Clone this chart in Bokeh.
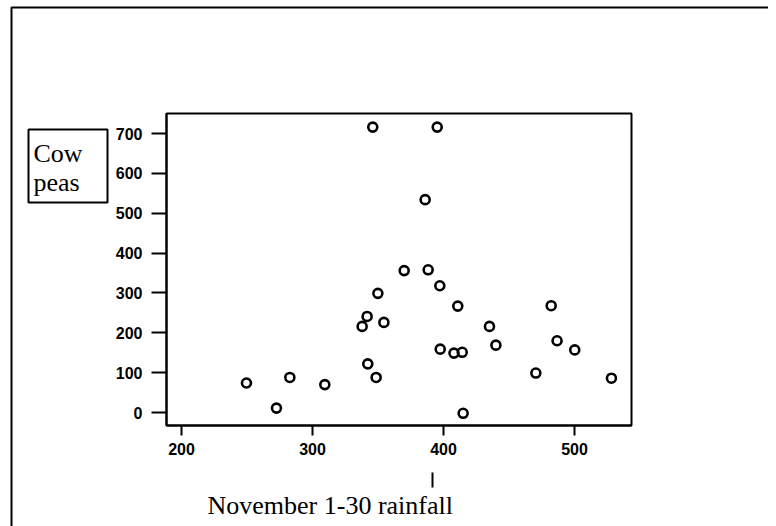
from bokeh.plotting import figure
from bokeh.models import BoxAnnotation, Label, FixedTicker, Range1d
from bokeh.embed import file_html
from bokeh.resources import INLINE

# Data: November 1-30 rainfall vs cow peas yield
rainfall = [249.6, 272.5, 282.7, 309.4, 337.9, 341.7, 354.5, 342.2, 348.6, 349.9,
            346.0, 370.0, 386.0, 388.3, 395.2, 397.2, 397.5, 408.0, 414.3, 410.9,
            415.0, 435.1, 440.0, 470.5, 482.2, 486.7, 500.2, 528.2]
cowpeas = [74, 11, 88, 70, 216, 241, 226, 122, 88, 299,
           716, 356, 534, 358, 716, 318, 159, 149, 151, 267,
           -2, 216, 169, 99, 268, 180, 157, 86]
x_ticks = [200, 300, 400, 500]
y_ticks = [0, 100, 200, 300, 400, 500, 600, 700]
x_label = "November 1-30 rainfall"
y_label_lines = ["Cow", "peas"]

W, H = 768, 526
# pixel <-> data mapping (canvas pixels from top-left)
X_PX0, X_PPU = 181.0, 1.31      # pixel of x=200, pixels per unit
Y_PX0, Y_PPU = 412.0, 279.0 / 700.0  # pixel of y=0, pixels per unit


def dx(px):
    return 200 + (px - X_PX0) / X_PPU


def dy(py):
    return (Y_PX0 - py) / Y_PPU


BOX_L, BOX_T, BOX_R, BOX_B = 166, 113, 631, 425

p = figure(width=W, height=H, min_border=0,
           x_range=Range1d(dx(0), dx(W)), y_range=Range1d(dy(H), dy(0)),
           output_backend="svg", toolbar_location=None)
p.title.visible = False
p.outline_line_color = None
p.xgrid.visible = False
p.ygrid.visible = False

p.scatter(rainfall, cowpeas, marker="circle", size=9, line_color="black",
          line_width=2.6, fill_alpha=0)

xa, ya = p.xaxis[0], p.yaxis[0]
xa.fixed_location = dy(BOX_B)
xa.bounds = (dx(BOX_L), dx(BOX_R))
ya.fixed_location = dx(BOX_L)
ya.bounds = (dy(BOX_B), dy(BOX_T))

for ax, ticks, tout, stand in ((xa, x_ticks, 10, 7), (ya, y_ticks, 15, 9)):
    ax.ticker = FixedTicker(ticks=ticks)
    ax.major_tick_out = tout
    ax.major_tick_in = 0
    ax.minor_tick_line_color = None
    ax.major_tick_line_width = 2
    ax.major_tick_line_color = "black"
    ax.axis_line_width = 2
    ax.axis_line_color = "black"
    ax.major_label_text_font = "Liberation Sans"
    ax.major_label_text_font_style = "bold"
    ax.major_label_text_font_size = "16px"
    ax.major_label_text_color = "black"
    ax.major_label_standoff = stand


def frame_box(l, t, r, b):
    return BoxAnnotation(left=dx(l), right=dx(r), top=dy(t), bottom=dy(b),
                         fill_alpha=0, line_color="black", line_alpha=1, line_width=2)


# plot box
p.add_layout(frame_box(BOX_L, BOX_T, BOX_R, BOX_B))
# outer frame (left and top edges)
p.add_layout(frame_box(11, 7, 900, 560))
# y label box
p.add_layout(frame_box(28, 129, 107, 202))

for i, t in enumerate(y_label_lines):
    p.add_layout(Label(x=dx(33), y=dy(153 + 29 * i), text=t,
                       text_font="Liberation Serif", text_font_size="26px",
                       text_baseline="alphabetic", text_color="black"))

# small mark above x label
p.add_layout(BoxAnnotation(left=dx(431), right=dx(433), top=dy(472), bottom=dy(487),
                           fill_color="black", fill_alpha=1, line_color=None))
p.add_layout(Label(x=dx(207), y=dy(505), text=x_label,
                   text_font="Liberation Serif", text_font_size="26px",
                   text_baseline="alphabetic", text_color="black"))

open("out.html", "w").write(file_html(p, INLINE))
